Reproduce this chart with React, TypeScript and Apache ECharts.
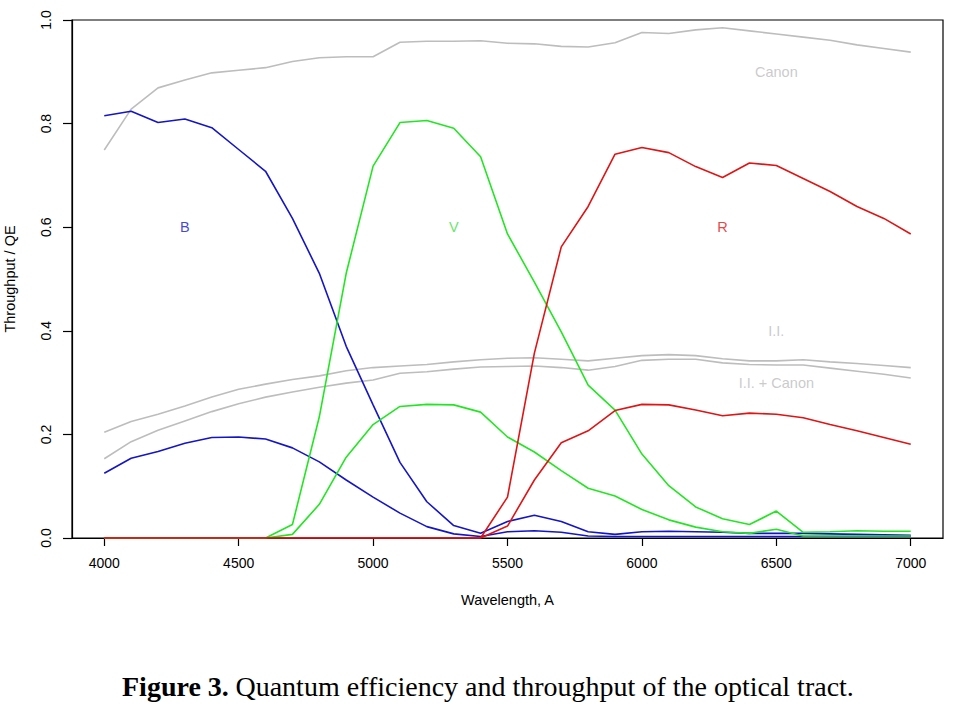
import React, { useEffect, useRef } from "react";
import * as echarts from "echarts";

const wavelengths = [
  4000, 4100, 4200, 4300, 4400, 4500, 4600, 4700, 4800, 4900, 5000, 5100, 5200, 5300, 5400, 5500,
  5600, 5700, 5800, 5900, 6000, 6100, 6200, 6300, 6400, 6500, 6600, 6700, 6800, 6900, 7000,
];

const canon = [
  0.749, 0.828, 0.869, 0.884, 0.898, 0.903, 0.908, 0.92, 0.927, 0.929, 0.929, 0.957, 0.959, 0.959, 0.96, 0.955,
  0.954, 0.949, 0.948, 0.956, 0.976, 0.974, 0.981, 0.985, 0.979, 0.973, 0.967, 0.961, 0.952, 0.945, 0.938,
];
const ii = [
  0.204, 0.225, 0.239, 0.255, 0.272, 0.287, 0.297, 0.306, 0.313, 0.323, 0.329, 0.332, 0.335, 0.34, 0.344, 0.347,
  0.348, 0.345, 0.342, 0.347, 0.352, 0.354, 0.352, 0.346, 0.342, 0.342, 0.344, 0.34, 0.337, 0.333, 0.329,
];
const iiCanon = [
  0.153, 0.186, 0.208, 0.226, 0.244, 0.259, 0.272, 0.282, 0.291, 0.299, 0.305, 0.318, 0.321, 0.326, 0.33, 0.331,
  0.332, 0.329, 0.324, 0.331, 0.343, 0.345, 0.345, 0.338, 0.335, 0.334, 0.334, 0.328, 0.322, 0.316, 0.309,
];
const bFilter = [
  0.815, 0.824, 0.802, 0.809, 0.792, 0.75, 0.708, 0.617, 0.511, 0.37, 0.257, 0.146, 0.07, 0.024, 0.009, 0.032,
  0.044, 0.032, 0.012, 0.007, 0.012, 0.013, 0.012, 0.011, 0.009, 0.009, 0.009, 0.008, 0.007, 0.006, 0.005,
];
const bTotal = [
  0.125, 0.154, 0.167, 0.183, 0.194, 0.195, 0.191, 0.174, 0.147, 0.112, 0.079, 0.048, 0.022, 0.008, 0.003, 0.012,
  0.014, 0.011, 0.004, 0.003, 0.003, 0.003, 0.003, 0.003, 0.003, 0.003, 0.003, 0.003, 0.003, 0.003, 0.003,
];
const vFilter = [
  0, 0, 0, 0, 0, 0, 0, 0.026, 0.234, 0.511, 0.718, 0.802, 0.806, 0.791, 0.736, 0.587,
  0.494, 0.398, 0.295, 0.247, 0.162, 0.101, 0.06, 0.037, 0.026, 0.052, 0.011, 0.012, 0.014, 0.013, 0.013,
];
const vTotal = [
  0, 0, 0, 0, 0, 0, 0, 0.007, 0.065, 0.156, 0.219, 0.254, 0.258, 0.257, 0.243, 0.195,
  0.166, 0.13, 0.096, 0.081, 0.055, 0.035, 0.021, 0.012, 0.009, 0.017, 0.004, 0.004, 0.004, 0.004, 0.004,
];
const rFilter = [
  0, 0, 0, 0, 0, 0, 0, 0, 0, 0, 0, 0, 0, 0, 0, 0.079,
  0.357, 0.562, 0.64, 0.741, 0.754, 0.744, 0.717, 0.696, 0.724, 0.719, 0.694, 0.669, 0.64, 0.617, 0.587,
];
const rTotal = [
  0, 0, 0, 0, 0, 0, 0, 0, 0, 0, 0, 0, 0, 0, 0, 0.023,
  0.112, 0.184, 0.207, 0.246, 0.258, 0.257, 0.247, 0.236, 0.241, 0.239, 0.232, 0.219, 0.207, 0.194, 0.181,
];

const xTicks = [4000, 4500, 5000, 5500, 6000, 6500, 7000];
const yTicks = [0, 0.2, 0.4, 0.6, 0.8, 1.0];

const annotationTexts = ["B", "V", "R", "Canon", "I.I.", "I.I. + Canon"];
const annotationX = [4300, 5300, 6300, 6500, 6500, 6500];
const annotationY = [0.6, 0.6, 0.6, 0.9, 0.4, 0.3];

const caption = "Quantum efficiency and throughput of the optical tract.";

const BLUE = "#1515c8";
const GREEN = "#22e622";
const RED = "#e01414";
const GRAY = "#bdbdbd";
const annotationColors = [BLUE, "#3de03d", RED, GRAY, GRAY, GRAY];

const FONT = "Liberation Sans, Arial, sans-serif";
const SERIF = "Liberation Serif, Times New Roman, serif";

function lineSeries(name: string, values: number[], color: string) {
  return {
    name,
    type: "line",
    data: wavelengths.map((w, i) => [w, values[i]]),
    showSymbol: false,
    symbol: "none",
    lineStyle: { color, width: 1.6 },
    itemStyle: { color },
    silent: true,
    z: 3,
  };
}

export default function App() {
  const ref = useRef<HTMLDivElement>(null);
  useEffect(() => {
    if (!ref.current) return;
    const chart = echarts.init(ref.current, undefined, { renderer: "svg" });
    const annotationSeries = annotationTexts.map((t, i) => ({
      type: "scatter",
      data: [[annotationX[i], annotationY[i]]],
      symbolSize: 1,
      itemStyle: { color: "rgba(0,0,0,0)" },
      silent: true,
      z: 5,
      label: {
        show: true,
        position: "inside",
        formatter: t,
        color: annotationColors[i],
        fontFamily: FONT,
        fontSize: 14.5,
      },
    }));
    chart.setOption({
      animation: false,
      backgroundColor: "#ffffff",
      grid: {
        left: 72,
        top: 20,
        width: 871,
        height: 518,
        containLabel: false,
        outerBoundsMode: "none",
        show: true,
        borderColor: "#000",
        borderWidth: 1.2,
        backgroundColor: "transparent",
      },
      xAxis: {
        type: "value",
        min: 3880,
        max: 7120,
        name: "Wavelength, A",
        nameLocation: "middle",
        nameGap: 54,
        nameTextStyle: { fontFamily: FONT, fontSize: 14.5, color: "#000" },
        axisLine: { show: true, lineStyle: { color: "#000", width: 1.2 } },
        axisTick: { show: true, length: 8, customValues: xTicks, lineStyle: { color: "#000", width: 1.2 } },
        axisLabel: {
          customValues: xTicks,
          margin: 18,
          fontFamily: FONT,
          fontSize: 14,
          color: "#000",
          formatter: (v: number) => String(v),
        },
        splitLine: { show: false },
      },
      yAxis: {
        type: "value",
        min: 0,
        max: 1,
        interval: 0.2,
        name: "Throughput / QE",
        nameLocation: "middle",
        nameRotate: 90,
        nameGap: 55,
        nameTextStyle: { fontFamily: FONT, fontSize: 14.5, color: "#000" },
        axisLine: { show: true, lineStyle: { color: "#000", width: 1.2 } },
        axisTick: { show: true, length: 9, lineStyle: { color: "#000", width: 1.2 } },
        axisLabel: {
          rotate: 90,
          margin: 19,
          fontFamily: FONT,
          fontSize: 14,
          color: "#000",
          formatter: (v: number) => v.toFixed(1),
          customValues: yTicks,
        },
        splitLine: { show: false },
      },
      series: [
        lineSeries("Canon", canon, GRAY),
        lineSeries("I.I.", ii, GRAY),
        lineSeries("I.I. + Canon", iiCanon, GRAY),
        lineSeries("B", bFilter, BLUE),
        lineSeries("B total", bTotal, BLUE),
        lineSeries("V", vFilter, GREEN),
        lineSeries("V total", vTotal, GREEN),
        lineSeries("R", rFilter, RED),
        lineSeries("R total", rTotal, RED),
        ...annotationSeries,
      ],
      graphic: [
        {
          type: "text",
          left: 122,
          top: 672,
          style: {
            text: "{b|Figure 3.}  {r|" + caption + "}",
            rich: {
              b: { fontFamily: SERIF, fontWeight: "bold", fontSize: 28, fill: "#000" },
              r: { fontFamily: SERIF, fontSize: 28, fill: "#000" },
            },
          },
        },
      ],
    });
    return () => chart.dispose();
  }, []);
  return (
    <div
      ref={ref}
      style={{ position: "absolute", left: 0, top: 0, width: 956, height: 709, background: "#fff" }}
    />
  );
}
